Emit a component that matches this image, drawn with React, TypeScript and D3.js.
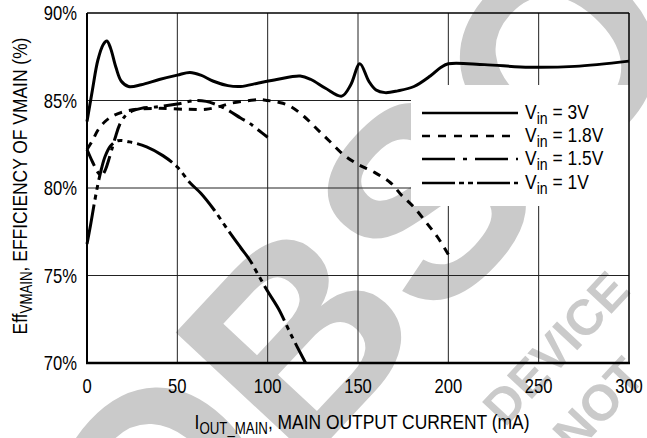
import React from 'react';
import * as d3 from 'd3';

// axis ticks
const xTicks = [0, 50, 100, 150, 200, 250, 300];
const yTicks = [70, 75, 80, 85, 90];

// Vin = 3V
const cur3 = [0, 3, 6, 9, 11, 13, 16, 19, 23, 30, 40, 50, 57, 63, 70, 78, 85, 95, 105, 118, 124, 132, 141, 146, 151, 156, 160, 165, 172, 181, 190, 196, 200, 220, 245, 270, 300];
const eff3 = [83.8, 85.6, 87.3, 88.2, 88.4, 88.0, 86.9, 86.1, 85.8, 85.9, 86.2, 86.45, 86.6, 86.45, 86.1, 85.85, 85.8, 86.0, 86.2, 86.4, 86.2, 85.7, 85.25, 85.9, 87.1, 86.1, 85.6, 85.45, 85.55, 85.8, 86.4, 86.9, 87.1, 87.05, 86.9, 86.95, 87.25];

// Vin = 1.8V
const cur18 = [0, 3, 6, 10, 14, 20, 28, 40, 55, 66, 73, 80, 90, 96, 100, 106, 112, 120, 127, 134, 142, 150, 159, 168, 174, 181, 188, 194, 200];
const eff18 = [82.2, 82.7, 83.3, 83.8, 84.1, 84.35, 84.5, 84.55, 84.5, 84.5, 84.65, 84.85, 85.0, 85.05, 85.0, 84.9, 84.7, 84.1, 83.4, 82.7, 81.9, 81.35, 80.9, 80.3, 79.6, 78.9, 78.0, 77.2, 76.2];

// Vin = 1.5V
const cur15 = [0, 3, 6, 8, 10, 12, 14, 16, 18, 21, 25, 30, 40, 50, 60, 66, 72, 78, 85, 90, 95, 100];
const eff15 = [82.2, 81.5, 80.9, 80.7, 81.0, 81.6, 82.3, 83.0, 83.6, 84.1, 84.4, 84.55, 84.65, 84.8, 85.0, 84.95, 84.75, 84.45, 84.0, 83.7, 83.3, 82.9];

// Vin = 1V
const cur1 = [0, 2, 4, 6, 8, 10, 13, 17, 25, 33, 42, 50, 57, 63, 70, 78, 85, 90, 95, 100, 106, 113, 121];
const eff1 = [76.8, 77.9, 79.1, 80.2, 81.1, 81.8, 82.4, 82.7, 82.6, 82.35, 81.85, 81.2, 80.3, 79.7, 78.8, 77.6, 76.6, 75.9, 75.0, 74.1, 73.1, 71.6, 70.0];

const legendLabels = ['3V', '1.8V', '1.5V', '1V'];

const W = 647;
const H = 438;
const m = { left: 87, top: 13, right: 629, bottom: 363 };
const FONT = '"Liberation Sans", Arial, sans-serif';
const SX = 0.83; // the original type is a condensed face

const series = [
  { x: cur3, y: eff3, dash: 'none', legendDash: 'none' },
  { x: cur18, y: eff18, dash: '8,7', legendDash: '8,8' },
  { x: cur15, y: eff15, dash: '18,6,4,6', legendDash: '33,8,4,8' },
  { x: cur1, y: eff1, dash: '40,5,5,5,5,5', legendDash: '33,4,5,4,5,4' },
];

const App = () => {
  const x = d3.scaleLinear().domain([0, 300]).range([m.left, m.right]);
  const y = d3.scaleLinear().domain([70, 90]).range([m.bottom, m.top]);

  const line = d3
    .line<[number, number]>()
    .x((d) => x(d[0]))
    .y((d) => y(d[1]))
    .curve(d3.curveCatmullRom.alpha(0.5));

  const legend = { x0: 411, y0: 85, x1: m.right, y1: 206 };
  const rowY = [113, 136, 159, 183];

  return (
    <svg width={W} height={H} style={{ position: 'absolute', left: 0, top: 0, background: '#fff' }}>
      {/* watermark */}
      <g fill="#cacaca" fontFamily={FONT} fontWeight="bold">
        <text transform="translate(156,626) rotate(-47)" fontSize={270}>OBSOLETE</text>
        <text transform="translate(505,428) rotate(-47)" fontSize={50}>DEVICE</text>
        <text transform="translate(575,455) rotate(-47)" fontSize={50}>NOT</text>
      </g>

      {/* grid */}
      <g stroke="#222" strokeWidth={1}>
        {xTicks.slice(1, -1).map((t) => (
          <line key={'gx' + t} x1={x(t)} x2={x(t)} y1={m.top} y2={m.bottom} />
        ))}
        {yTicks.slice(1, -1).map((t) => (
          <line key={'gy' + t} x1={m.left} x2={m.right} y1={y(t)} y2={y(t)} />
        ))}
      </g>

      {/* legend box covers the grid */}
      <rect x={legend.x0} y={legend.y0} width={legend.x1 - legend.x0} height={legend.y1 - legend.y0} fill="#fff" />

      {/* frame */}
      <line x1={m.left} x2={m.right} y1={m.top} y2={m.top} stroke="#000" strokeWidth={1.5} />
      <line x1={m.right} x2={m.right} y1={m.top} y2={m.bottom} stroke="#000" strokeWidth={1.5} />
      <line x1={m.left} x2={m.left} y1={m.top} y2={m.bottom} stroke="#000" strokeWidth={2} />
      <line x1={m.left - 1} x2={m.right + 1} y1={m.bottom} y2={m.bottom} stroke="#000" strokeWidth={2.5} />

      {/* curves */}
      <g fill="none" stroke="#000" strokeWidth={3}>
        {series.map((s, i) => (
          <path
            key={i}
            d={line(s.x.map((v, j) => [v, s.y[j]] as [number, number])) || ''}
            strokeDasharray={s.dash}
          />
        ))}
      </g>

      {/* legend */}
      <g fontFamily={FONT} fontSize={21} fill="#000">
        {series.map((s, i) => (
          <g key={i}>
            <line x1={422} x2={518} y1={rowY[i]} y2={rowY[i]} stroke="#000" strokeWidth={2.5} strokeDasharray={s.legendDash} />
            <text transform={`translate(525,${rowY[i] + 6}) scale(${SX},1)`}>
              V<tspan fontSize={17} dy={5}>in</tspan>
              <tspan dy={-5}> = {legendLabels[i]}</tspan>
            </text>
          </g>
        ))}
      </g>

      {/* tick labels */}
      <g fontFamily={FONT} fontSize={20} fill="#000">
        {xTicks.map((t) => (
          <text key={'tx' + t} transform={`translate(${x(t)},393) scale(${SX},1)`} textAnchor="middle">{t}</text>
        ))}
        {yTicks.map((t) => (
          <text key={'ty' + t} transform={`translate(77,${y(t)}) scale(${SX},1)`} dy="0.35em" textAnchor="end">{t}%</text>
        ))}
      </g>

      {/* axis titles */}
      <text
        transform={`translate(362,429) scale(${SX},1)`}
        textAnchor="middle"
        fontFamily={FONT}
        fontSize={21}
        fill="#000"
      >
        I<tspan fontSize={16} dy={5}>OUT_MAIN</tspan>
        <tspan dy={-5}>, MAIN OUTPUT CURRENT (mA)</tspan>
      </text>
      <text
        transform={`translate(27,186) rotate(-90) scale(${SX},1)`}
        textAnchor="middle"
        fontFamily={FONT}
        fontSize={21}
        fill="#000"
      >
        Eff<tspan fontSize={16} dy={5}>VMAIN</tspan>
        <tspan dy={-5}>, EFFICIENCY OF VMAIN (%)</tspan>
      </text>
    </svg>
  );
};

export default App;
